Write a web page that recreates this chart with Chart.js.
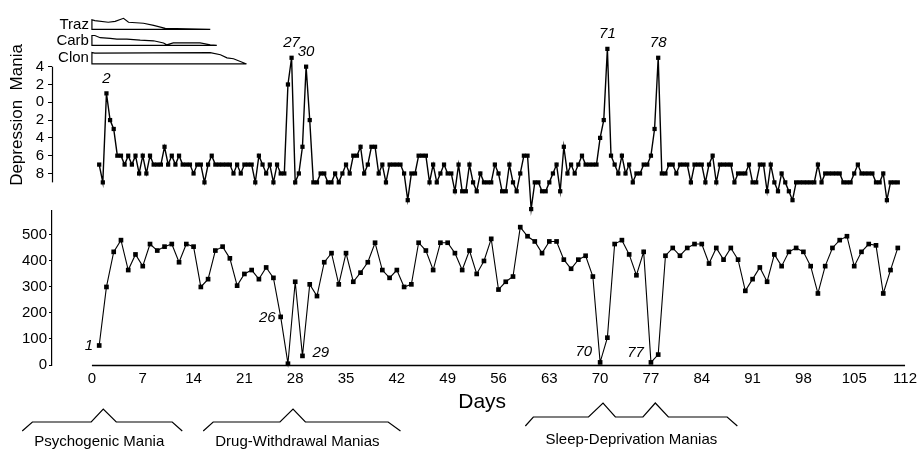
<!DOCTYPE html>
<html><head><meta charset="utf-8">
<script src="https://cdn.jsdelivr.net/npm/chart.js@4.4.1/dist/chart.umd.min.js"></script>
<style>
html,body{margin:0;padding:0;background:#fff;}
#wrap{position:relative;width:921px;height:451px;overflow:hidden;background:#fff;}
#bot{position:absolute;left:0;top:200px;}
#top{position:absolute;left:0;top:0;}
</style></head><body>
<div id="wrap"><canvas id="bot" width="921" height="251"></canvas><canvas id="top" width="921" height="230"></canvas></div>
<script>
// ---------- data ----------
// mood ratings, twice daily from day 1 (mania positive, depression negative)
const moodStartDay = 1, moodStepDays = 0.5;
const moodRatings = [
 -7,-9,1,-2,-3,-6,-6,-7,-6,-7,
 -6,-8,-6,-8,-6,-7,-7,-7,-5,-7,
 -6,-7,-6,-7,-7,-7,-8,-7,-7,-9,
 -7,-6,-7,-7,-7,-7,-7,-8,-7,-8,
 -7,-7,-7,-9,-6,-7,-8,-7,-9,-7,
 -8,-8,2,5,-9,-8,-5,4,-2,-9,
 -9,-8,-8,-9,-9,-8,-9,-8,-7,-8,
 -6,-6,-5,-8,-7,-5,-5,-8,-7,-9,
 -7,-7,-7,-7,-8,-11,-8,-8,-6,-6,
 -6,-9,-7,-9,-8,-7,-8,-8,-10,-7,
 -10,-10,-7,-9,-10,-8,-9,-9,-9,-7,
 -8,-10,-10,-7,-9,-10,-8,-6,-6,-12,
 -9,-9,-10,-10,-9,-8,-7,-10,-5,-8,
 -7,-8,-7,-6,-7,-7,-7,-7,-4,-2,
 6,-6,-7,-8,-6,-8,-7,-9,-8,-8,
 -7,-7,-6,-3,5,-8,-8,-7,-7,-8,
 -7,-7,-7,-9,-7,-7,-7,-9,-7,-6,
 -9,-7,-7,-7,-7,-9,-8,-8,-8,-7,
 -9,-9,-7,-7,-10,-7,-9,-10,-8,-9,
 -10,-11,-9,-9,-9,-9,-9,-9,-7,-9,
 -8,-8,-8,-8,-8,-9,-9,-9,-8,-7,
 -8,-8,-8,-8,-9,-9,-8,-11,-9,-9,
 -9
];
// sleep, minutes per day, from day 1
const sleepStartDay = 1;
const sleepMinutes = [
 75,300,435,480,365,425,380,465,440,455,
 465,395,465,455,300,330,440,455,410,305,
 350,365,330,375,335,185,5,320,35,310,
 265,395,430,310,430,320,355,395,470,365,
 335,365,300,310,470,440,365,470,470,430,
 365,440,350,400,485,290,320,340,530,495,
 475,430,475,475,405,370,405,420,340,10,
 105,465,480,425,345,435,10,40,420,450,
 420,450,465,465,390,450,405,450,405,285,
 330,375,320,425,380,435,450,435,380,275,
 380,450,480,495,380,435,465,460,275,365,
 450
];
// drug dose profiles (fraction of initial dose) and the days they are read at
const drugNames = ['Traz','Carb','Clon'];
const trazDays = [16.3,0,0,0.4,2.25,3.2,4.35,5.04,7.1,8.5,10.1,16.3];
const trazDose = [0,0,1,0.91,0.74,0.83,1.15,0.74,0.64,0.42,0.1,0];
const carbDays = [17.2,0,0,0.4,1.14,2.52,3.44,4.82,6.65,8.49,9.86,10.3,11.2,14.9,16.3,17.2];
const carbDose = [0,0,1,1,0.78,0.72,0.63,0.63,0.53,0.47,0.25,0.07,0.25,0.25,0.07,0];
const clonDays = [21.3,0,0,0.4,16.3,17.7,18.6,19.5,21.3];
const clonDose = [0,0,1,0.95,1,0.81,0.54,0.46,0];
// axis ticks
const dayTicks = [0,7,14,21,28,35,42,49,56,63,70,77,84,91,98,105,112];
const sleepTicks = [0,100,200,300,400,500];
const moodTicks = [4,2,0,-2,-4,-6,-8];
// annotated points (index in series, text)
const moodNotes = [[2,'2'],[53,'27'],[57,'30'],[140,'71'],[154,'78']];
const sleepNotes = [[0,'1'],[25,'26'],[28,'29'],[69,'70'],[76,'77']];
const periodLabels = ['Psychogenic Mania','Drug-Withdrawal Manias','Sleep-Deprivation Manias'];

// ---------- build ----------
const FONT = '"Liberation Sans", Arial, Helvetica, sans-serif';
Chart.defaults.font.family = FONT;
Chart.defaults.color = '#000';
const xMin = -5.5, xMax = 113;

const moodPoints = moodRatings.map((v,i)=>({x: moodStartDay + i*moodStepDays, y: v}));
const sleepPoints = sleepMinutes.map((v,i)=>({x: sleepStartDay + i, y: v}));
const toPts = (d, v) => d.map((x,i)=>({x:x, y:v[i]}));

const drugStyle = {borderColor:'#000', borderWidth:1.2, pointRadius:0, tension:0, clip:false, fill:false};

const topDeco = {
  id:'topDeco',
  afterDraw(chart){
    const {ctx, chartArea, scales} = chart;
    const ys = scales.y, xs = scales.x;
    ctx.save();
    ctx.strokeStyle = '#000'; ctx.lineWidth = 1.2;
    const ax = Math.round(chartArea.left) + 0.5;
    ctx.beginPath(); ctx.moveTo(ax, ys.getPixelForValue(4)); ctx.lineTo(ax, ys.getPixelForValue(-9)); ctx.stroke();
    ctx.fillStyle = '#000';
    ctx.font = '15px ' + FONT; ctx.textAlign = 'right'; ctx.textBaseline = 'middle';
    ['yT','yCa','yCl'].forEach((id,k)=>{
      ctx.fillText(drugNames[k], xs.getPixelForValue(0) - 3, scales[id].getPixelForValue(0.5));
    });
    const meta = chart.getDatasetMeta(0);
    ctx.font = 'italic 15px ' + FONT; ctx.textAlign = 'center';
    moodNotes.forEach(([i,t])=>{ const p = meta.data[i]; ctx.fillText(t, p.x, p.y - 15); });
    ctx.restore();
  }
};

new Chart(document.getElementById('top'), {
  type:'line',
  data:{datasets:[
    {data:moodPoints, yAxisID:'y', borderColor:'#000', borderWidth:1.4, pointStyle:'rect', pointRadius:3,
     pointBackgroundColor:'#000', pointBorderColor:'#000', pointBorderWidth:0, tension:0, clip:false},
    Object.assign({data:toPts(trazDays,trazDose), yAxisID:'yT'}, drugStyle),
    Object.assign({data:toPts(carbDays,carbDose), yAxisID:'yCa'}, drugStyle),
    Object.assign({data:toPts(clonDays,clonDose), yAxisID:'yCl'}, drugStyle)
  ]},
  options:{
    responsive:false, animation:false, events:[],
    layout:{padding:{left:0,right:8.7,top:5,bottom:5}},
    plugins:{legend:{display:false}, tooltip:{enabled:false}},
    scales:{
      x:{type:'linear', min:xMin, max:xMax, display:false},
      y:{type:'linear', position:'left', min:-12.89, max:10.03,
         grid:{display:true, drawOnChartArea:false, drawTicks:true, tickLength:4, color:'#000'},
         border:{display:false},
         ticks:{font:{size:15}, color:'#000', padding:4, callback:v=>String(Math.abs(v))},
         afterBuildTicks:s=>{ s.ticks = moodTicks.map(v=>({value:v})); },
         afterFit:s=>{ s.width = 52; },
         title:{display:true, text:'Depression  Mania', font:{size:17}, color:'#000', padding:{top:7,bottom:0}}},
      yT:{type:'linear', display:false, min:-19.45, max:1.70},
      yCa:{type:'linear', display:false, min:-17.29, max:3.27},
      yCl:{type:'linear', display:false, min:-13.42, max:4.47}
    }
  },
  plugins:[topDeco]
});

const botDeco = {
  id:'botDeco',
  beforeDatasetsDraw(chart){
    const {ctx, scales} = chart; const xs = scales.x, ys = scales.y;
    const y0 = Math.round(ys.getPixelForValue(0)) + 0.5;
    ctx.save(); ctx.strokeStyle = '#000'; ctx.lineWidth = 1.3;
    ctx.beginPath(); ctx.moveTo(xs.getPixelForValue(0), y0); ctx.lineTo(xs.getPixelForValue(112), y0); ctx.stroke();
    ctx.restore();
  },
  afterDraw(chart){
    const {ctx, scales} = chart; const xs = scales.x, ys = scales.y;
    const y0 = ys.getPixelForValue(0);
    ctx.save();
    ctx.fillStyle = '#000'; ctx.strokeStyle = '#000';
    // point notes
    const meta = chart.getDatasetMeta(0);
    const offs = {'1':[-6,0,'right'],'26':[-5,1,'right'],'29':[10,-3,'left'],'70':[-8,-11,'right'],'77':[-7,-10,'right']};
    ctx.font = 'italic 15px ' + FONT; ctx.textBaseline = 'middle';
    sleepNotes.forEach(([i,t])=>{
      const p = meta.data[i]; const o = offs[t];
      ctx.textAlign = o[2]; ctx.fillText(t, p.x + o[0], p.y + o[1]);
    });
    // period braces (x in days, y offset in px below the axis)
    const braces = [
      {pts:[[-9.6,66],[-8.2,57],[-0.1,57],[1.56,44],[3.35,57],[11.06,57],[12.44,66]], lx:1.0, ly:77},
      {pts:[[15.33,66],[16.7,57],[25.9,57],[27.7,44],[29.4,57],[40.8,57],[42.5,66]], lx:28.3, ly:77},
      {pts:[[59.7,61],[60.8,52],[68.4,52],[70.4,38],[72.1,52],[75.9,52],[77.6,38],[79.4,52],[87.5,52],[88.9,61]], lx:74.3, ly:75}
    ];
    ctx.lineWidth = 1.2; ctx.lineJoin = 'miter';
    ctx.font = '15px ' + FONT; ctx.textAlign = 'center';
    braces.forEach((b,k)=>{
      ctx.beginPath();
      b.pts.forEach(([d,o],j)=>{ const px = xs.getPixelForValue(d), py = y0 + o; j ? ctx.lineTo(px,py) : ctx.moveTo(px,py); });
      ctx.stroke();
      ctx.fillText(periodLabels[k], xs.getPixelForValue(b.lx), y0 + b.ly);
    });
    ctx.restore();
  }
};

new Chart(document.getElementById('bot'), {
  type:'line',
  data:{datasets:[
    {data:sleepPoints, borderColor:'#000', borderWidth:1.1, pointStyle:'rect', pointRadius:3.3,
     pointBackgroundColor:'#000', pointBorderColor:'#000', pointBorderWidth:0, tension:0, clip:false}
  ]},
  options:{
    responsive:false, animation:false, events:[],
    layout:{padding:{left:0,right:8.7,top:10,bottom:0}},
    plugins:{legend:{display:false}, tooltip:{enabled:false}},
    scales:{
      x:{type:'linear', position:'bottom', min:xMin, max:xMax,
         grid:{display:false, drawTicks:false}, border:{display:false},
         ticks:{font:{size:15}, color:'#000', padding:5, maxRotation:0, autoSkip:false},
         afterBuildTicks:s=>{ s.ticks = dayTicks.map(v=>({value:v})); },
         afterFit:s=>{ s.height = 86; s.paddingLeft = 0; s.paddingRight = 0; },
         title:{display:true, text:'Days', font:{size:21}, color:'#000', padding:{top:0,bottom:36}}},
      y:{type:'linear', position:'left', min:0, max:592,
         grid:{display:true, drawOnChartArea:false, drawTicks:true, tickLength:3, color:'#000'},
         border:{display:true, color:'#000', width:1.2},
         ticks:{font:{size:15}, color:'#000', padding:2},
         afterBuildTicks:s=>{ s.ticks = sleepTicks.map(v=>({value:v})); },
         afterFit:s=>{ s.width = 52; }}
    }
  },
  plugins:[botDeco]
});
</script>
</body></html>
